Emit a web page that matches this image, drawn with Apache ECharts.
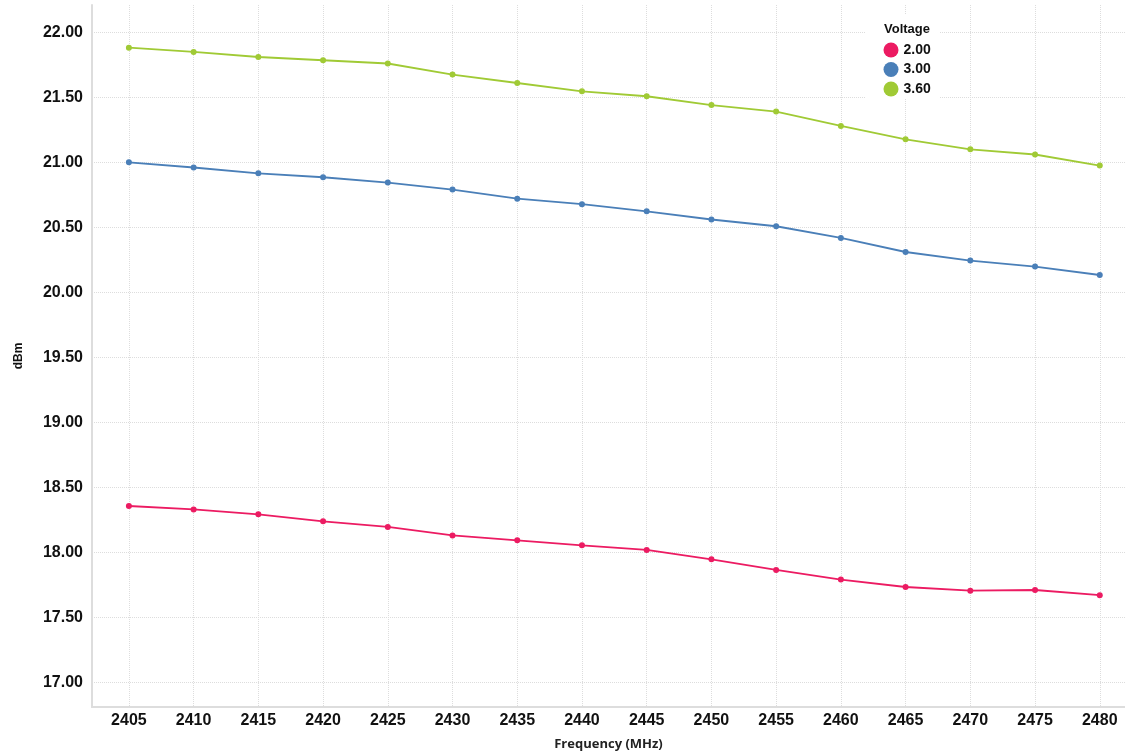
<!DOCTYPE html>
<html>
<head>
<meta charset="utf-8">
<script src="https://cdn.jsdelivr.net/npm/echarts@6/dist/echarts.min.js"></script>
<style>html,body{margin:0;padding:0;background:#fff;}#chart{width:1125px;height:754px;}</style>
</head>
<body>
<div id="chart"></div>
<script>
const frequencies = [2405,2410,2415,2420,2425,2430,2435,2440,2445,2450,2455,2460,2465,2470,2475,2480];
const v200 = [18.356,18.33,18.292,18.238,18.195,18.13,18.092,18.054,18.018,17.946,17.864,17.79,17.733,17.705,17.71,17.67];
const v300 = [21.00,20.96,20.915,20.885,20.844,20.79,20.72,20.678,20.623,20.56,20.508,20.418,20.31,20.244,20.198,20.133];
const v360 = [21.882,21.849,21.81,21.785,21.76,21.675,21.61,21.546,21.508,21.44,21.39,21.28,21.177,21.10,21.06,20.975];
const yTicks = [17,17.5,18,18.5,19,19.5,20,20.5,21,21.5,22];
const seriesNames = ['2.00','3.00','3.60'];
const colors = ['#EC1B62','#4A7FB8','#A0CA35'];

const chart = echarts.init(document.getElementById('chart'));
const toPairs = arr => arr.map((v,i)=>[frequencies[i], v]);
const labelFont = {fontFamily:'"Liberation Sans", Arial, sans-serif', fontWeight:'bold', fontSize:16, color:'#111'};
chart.setOption({
  animation:false,
  color: colors,
  grid:{left:92,right:0,top:5,bottom:47, outerBoundsMode:'none', containLabel:false},
  graphic:[
    {type:'rect', shape:{x:866,y:14,width:74,height:84}, style:{fill:'#fff'}, z:10},
    {type:'text', left:884, top:23, z:11, style:{text:'Voltage', font:'bold 13px "Liberation Sans", Arial, sans-serif', fill:'#111'}}
  ],
  legend:{
    orient:'vertical', left:878.5, top:37.5, z:12,
    icon:'circle', itemWidth:15, itemHeight:15, itemGap:4.5,
    textStyle:{fontFamily:'"Liberation Sans", Arial, sans-serif', fontWeight:'bold', fontSize:14, color:'#111'},
    data: seriesNames
  },
  xAxis:{
    type:'value', min:2402.15, max:2481.95,
    name:'Frequency (MHz)', nameLocation:'middle', nameGap:31,
    nameTextStyle:{fontFamily:'"Open Sans", sans-serif', fontWeight:'bold', fontSize:13, color:'#222'},
    axisLine:{show:true, lineStyle:{color:'#ddd', width:2}},
    axisTick:{show:false, customValues: frequencies},
    axisLabel:Object.assign({customValues: frequencies, margin:6, formatter: v => String(v)}, labelFont),
    splitLine:{show:true, lineStyle:{color:'#ddd', type:'dotted', width:1}}
  },
  yAxis:{
    type:'value', min:16.81, max:22.21,
    name:'dBm', nameLocation:'middle', nameGap:67, nameRotate:90,
    nameTextStyle:{fontFamily:'"Liberation Sans", Arial, sans-serif', fontWeight:'bold', fontSize:12, color:'#111'},
    axisLine:{show:true, lineStyle:{color:'#ddd', width:2}},
    axisTick:{show:false, customValues: yTicks},
    axisLabel:Object.assign({customValues: yTicks, margin:9, formatter: v => v.toFixed(2)}, labelFont),
    splitLine:{show:true, lineStyle:{color:'#ddd', type:'dotted', width:1}}
  },
  series:[v200, v300, v360].map((arr,i)=>({
    name: seriesNames[i], type:'line', data: toPairs(arr),
    symbol:'circle', symbolSize:6, showSymbol:true,
    lineStyle:{width:1.8, color: colors[i]},
    itemStyle:{color: colors[i]}
  }))
});
</script>
</body>
</html>
